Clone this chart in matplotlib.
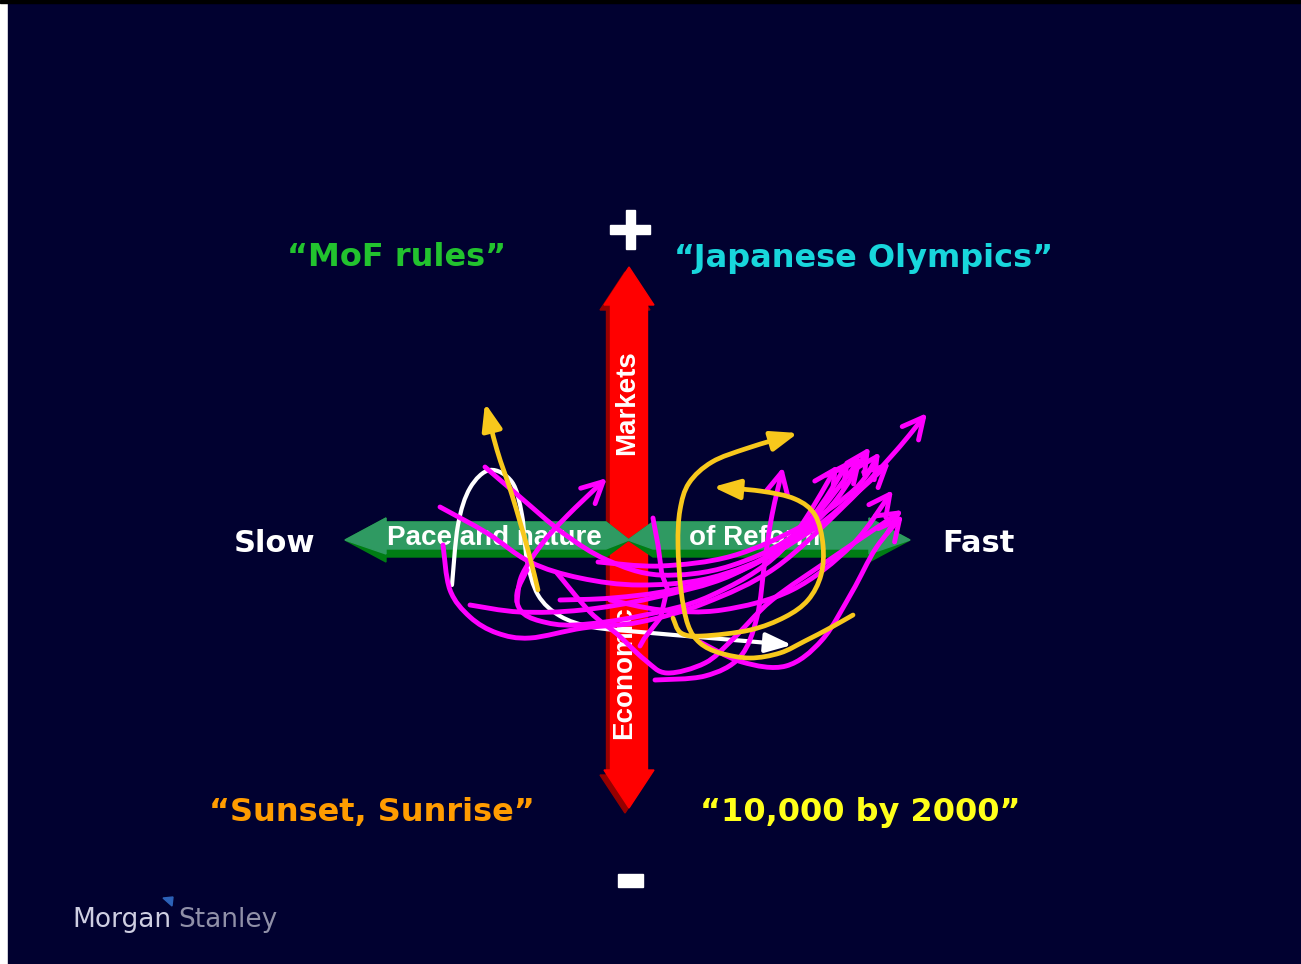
import numpy as np
import matplotlib
matplotlib.use("Agg")
import matplotlib.pyplot as plt
from matplotlib.path import Path
from matplotlib.patches import Polygon, Rectangle, FancyArrowPatch

# ---- text content -------------------------------------------------------
QUADRANT_LABELS = ["\u201cMoF rules\u201d", "\u201cJapanese Olympics\u201d",
                   "\u201cSunset, Sunrise\u201d", "\u201c10,000 by 2000\u201d"]
QUADRANT_COLORS = ["#22c32e", "#18d6dc", "#ff9c00", "#ffff1a"]
QUADRANT_POS = [(397, 258), (864, 258), (372, 812), (860, 812)]

AXIS_END_LABELS = ["Slow", "Fast"]
AXIS_END_POS = [(275, 543), (978, 543)]
H_AXIS_TEXT = ["Pace and nature", "of Reform"]
V_AXIS_TEXT = ["Markets", "Economic"]

# ---- hand-drawn scenario paths (canvas pixel coordinates) ---------------
WHITE_PATH = [(452, 585), (458, 525), (470, 488), (490, 470), (512, 482),
              (522, 515), (527, 560), (538, 595), (560, 616), (592, 627),
              (640, 632), (710, 638), (792, 645)]

YELLOW_PATHS = [
    [(538, 590), (528, 550), (512, 495), (497, 450), (485, 403)],
    [(853, 615), (830, 628), (805, 641), (780, 653), (750, 658), (720, 653),
     (700, 643), (688, 625), (681, 590), (678, 545), (680, 510), (689, 483),
     (712, 462), (748, 448), (798, 433)],
    [(673, 618), (681, 633), (702, 636), (750, 630), (785, 617), (808, 600),
     (821, 575), (823, 545), (815, 515), (795, 499), (760, 491), (713, 487)],
]

MAGENTA_PATHS = [
    [(443, 545), (450, 590), (470, 617), (497, 633), (530, 638), (583, 628),
     (640, 622), (705, 603), (775, 568), (845, 505), (895, 452), (927, 413)],
    [(440, 507), (487, 533), (530, 562), (580, 578), (640, 585), (710, 578),
     (780, 550), (832, 505), (870, 447)],
    [(485, 467), (520, 497), (563, 533), (607, 560), (660, 575), (730, 566),
     (800, 530), (850, 460)],
    [(527, 570), (517, 593), (521, 611), (540, 621), (575, 625), (640, 616),
     (710, 596), (782, 550), (838, 465)],
    [(517, 602), (522, 575), (545, 540), (575, 508), (607, 478)],
    [(557, 573), (590, 612), (617, 634), (645, 660), (667, 673), (705, 663),
     (732, 640), (772, 600), (832, 558), (903, 510)],
    [(610, 600), (662, 610), (722, 610), (792, 590), (852, 545), (893, 490)],
    [(655, 680), (705, 676), (740, 657), (757, 617), (765, 560), (772, 515),
     (783, 467)],
    [(560, 600), (612, 598), (672, 590), (742, 570), (812, 530), (860, 490),
     (890, 462)],
    [(470, 605), (520, 612), (582, 610), (652, 598), (732, 575), (802, 530),
     (862, 457)],
    [(598, 562), (660, 566), (732, 556), (802, 526), (856, 488), (880, 452)],
    [(700, 642), (742, 662), (786, 666), (822, 640), (852, 592), (876, 548),
     (903, 515)],
]
MAGENTA_OPEN = [
    [(640, 646), (664, 603), (660, 560), (653, 518)],
]

NAVY = "#010130"
W, H = 1301, 964


def smooth_path(points):
    """Catmull-Rom style cubic Bezier path through the given points."""
    pts = np.asarray(points, float)
    verts = [pts[0]]
    codes = [Path.MOVETO]
    n = len(pts)
    for i in range(n - 1):
        p0 = pts[i - 1] if i > 0 else pts[i]
        p1, p2 = pts[i], pts[i + 1]
        p3 = pts[i + 2] if i + 2 < n else p2
        verts += [p1 + (p2 - p0) / 6.0, p2 - (p3 - p1) / 6.0, p2]
        codes += [Path.CURVE4] * 3
    return Path(verts, codes)


fig = plt.figure(figsize=(W / 100, H / 100), dpi=100)
fig.patch.set_facecolor("white")
ax = fig.add_axes([0, 0, 1, 1])
ax.set_xlim(0, W)
ax.set_ylim(H, 0)
ax.axis("off")

# slide background with thin frame edges
ax.add_patch(Rectangle((8, 0), W - 8, H, color=NAVY, zorder=0))
ax.add_patch(Rectangle((0, 0), W, 3, color="black", zorder=0.5))

# ---- vertical red double arrow -----------------------------------------
cx = 629
shaft_hw, head_hw = 18.5, 25
top_tip, top_base, bot_base, bot_tip = 267, 305, 770, 808
red_shape = [(cx, top_tip), (cx + head_hw, top_base), (cx + shaft_hw, top_base),
             (cx + shaft_hw, bot_base), (cx + head_hw, bot_base), (cx, bot_tip),
             (cx - head_hw, bot_base), (cx - shaft_hw, bot_base),
             (cx - shaft_hw, top_base), (cx - head_hw, top_base)]
shadow = [(x - 4, y + 5) for x, y in red_shape]
ax.add_patch(Polygon(shadow, closed=True, color="#960000", zorder=1))
ax.add_patch(Polygon(red_shape, closed=True, color="#ff0000", zorder=1.1))

# ---- horizontal green double arrow (two halves meeting in the middle) ---
cy = 540
g_top, g_bot = 522, 557
left_half = [(345, cy), (386, cy - 22), (386, g_top), (606, g_top), (629, cy),
             (606, g_bot), (386, g_bot), (386, cy + 22)]
right_half = [(910, cy), (869, cy - 22), (869, g_top), (653, g_top), (628, cy),
              (653, g_bot), (869, g_bot), (869, cy + 22)]
for half in (left_half, right_half):
    ax.add_patch(Polygon(half, closed=True, color="#007d14", zorder=2))
    raised = [(x, y - 8 if y > cy else y) for x, y in half]
    ax.add_patch(Polygon(raised, closed=True, color="#2f9a62", zorder=2.1))

inner_font = dict(color="white", fontsize=20, fontweight="bold",
                  family="Liberation Sans", ha="center", va="center", zorder=3)
ax.text(494, 538, H_AXIS_TEXT[0], **inner_font)
ax.text(755, 538, H_AXIS_TEXT[1], **inner_font)
ax.text(627, 403, V_AXIS_TEXT[0], rotation=90, **inner_font)
ax.text(624, 673, V_AXIS_TEXT[1], rotation=90, **inner_font)

# ---- plus / minus signs --------------------------------------------------
ax.add_patch(Rectangle((610, 225), 40, 9, color="white", zorder=3))
ax.add_patch(Rectangle((625.5, 210), 9, 39, color="white", zorder=3))
ax.add_patch(Rectangle((618, 874), 25, 13, color="white", zorder=3))

# ---- labels ----------------------------------------------------------------
for (x, y), s in zip(AXIS_END_POS, AXIS_END_LABELS):
    ax.text(x, y, s, color="white", fontsize=22, fontweight="bold",
            ha="center", va="center", zorder=3)
for (x, y), s, c in zip(QUADRANT_POS, QUADRANT_LABELS, QUADRANT_COLORS):
    ax.text(x, y, s, color=c, fontsize=23, fontweight="bold",
            ha="center", va="center", zorder=3)

# ---- scenario paths --------------------------------------------------------
def draw_arrow(points, color, lw, z, style):
    arr = FancyArrowPatch(path=smooth_path(points), arrowstyle=style,
                          mutation_scale=20, color=color, lw=lw,
                          capstyle="round", joinstyle="round", zorder=z)
    ax.add_patch(arr)


OPEN_HEAD = "->,head_length=0.75,head_width=0.38"
FILLED_HEAD = "-|>,head_length=0.8,head_width=0.3"

draw_arrow(WHITE_PATH, "white", 3.0, 4, FILLED_HEAD)
for p in MAGENTA_PATHS:
    draw_arrow(p, "#ff00ff", 3.5, 5, OPEN_HEAD)
for p in MAGENTA_OPEN:
    ax.plot(*np.array(smooth_path(p).interpolated(20).vertices).T,
            color="#ff00ff", lw=3.5, solid_capstyle="round", zorder=5)
for p in YELLOW_PATHS:
    draw_arrow(p, "#f8c81c", 3.4, 6, FILLED_HEAD)

# ---- logo ------------------------------------------------------------------
ax.text(72, 920, "Morgan", color="#cfcfe2", fontsize=19,
        family="DejaVu Sans", ha="left", va="center", zorder=3)
ax.text(178, 920, "Stanley", color="#9090a8", fontsize=19,
        family="DejaVu Sans", ha="left", va="center", zorder=3)
ax.add_patch(Polygon([(163, 898), (173, 897), (172, 906)], closed=True,
                     color="#2c62b8", zorder=3))

fig.savefig("out.png", dpi=100, facecolor=fig.get_facecolor())
